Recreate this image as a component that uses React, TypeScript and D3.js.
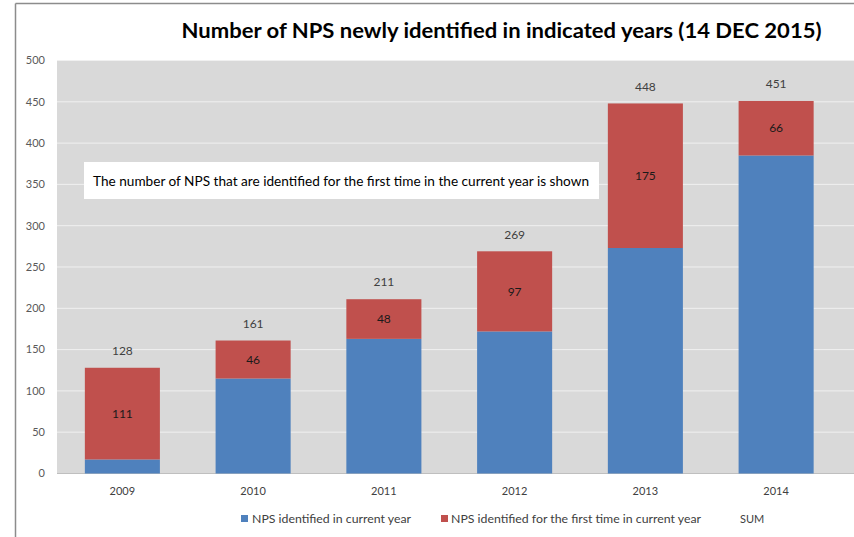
import React from "react";
import * as d3 from "d3";

const years = ["2009", "2010", "2011", "2012", "2013", "2014"];
const currentYear = [17, 115, 163, 172, 273, 385];
const firstTime = [111, 46, 48, 97, 175, 66];
const sums = [128, 161, 211, 269, 448, 451];
const yTicks = [0, 50, 100, 150, 200, 250, 300, 350, 400, 450, 500];
const seriesNames = ["NPS identified in current year", "NPS identified for the first time in current year", "SUM"];
const titleText = "Number of NPS newly identified in indicated years (14 DEC 2015)";
const noteText = "The number of NPS that are identified for the first time in the current year is shown";

const W = 854, H = 537;
const FONT = "Lato, 'Open Sans', sans-serif";

export default function App() {
  const x = d3.scaleBand().domain(years).range([57, 841.5]).paddingInner(0.426).paddingOuter(0.213);
  const y = d3.scaleLinear().domain([0, 500]).range([473.5, 60.5]);
  const blue = "#4f81bd", red = "#c0504d";
  const stack = d3.stack<any>().keys(["a", "b"])(years.map((yr, i) => ({ yr, a: currentYear[i], b: firstTime[i] })));
  return (
    <svg width={W} height={H} style={{ position: "absolute", left: 0, top: 0, display: "block" }}>
      <rect x={0} y={0} width={W} height={H} fill="#fff" />
      <line x1={15.5} y1={3.5} x2={W} y2={3.5} stroke="#8c8c8c" strokeWidth={1.5} />
      <line x1={15.5} y1={3.5} x2={15.5} y2={H} stroke="#8c8c8c" strokeWidth={1.5} />
      <text x={501.5} y={38} textAnchor="middle" fontFamily={FONT} fontWeight="bold" fontSize={21} fill="#000"
        textLength={640} lengthAdjust="spacingAndGlyphs">{titleText}</text>
      <rect x={57} y={60.5} width={W - 57} height={413} fill="#d9d9d9" />
      {yTicks.map(t => (
        <g key={t}>
          {t > 0 && <line x1={57} x2={W} y1={y(t)} y2={y(t)} stroke="#f0f0f0" strokeWidth={1} />}
          <text x={45} y={y(t)} dy="0.35em" textAnchor="end" fontFamily={FONT} fontSize={11} fill="#595959">{t}</text>
        </g>
      ))}
      <line x1={57} x2={W} y1={473.5} y2={473.5} stroke="#bfbfbf" strokeWidth={1} />
      <rect x={84} y={162} width={515} height={37} fill="#fff" />
      <text x={93} y={181} dy="0.35em" fontFamily={FONT} fontSize={13} fill="#000" textLength={496} lengthAdjust="spacingAndGlyphs">{noteText}</text>
      {stack.map((s, si) => s.map((d, i) => (
        <rect key={si + "-" + i} x={x(years[i])!} width={x.bandwidth()} y={y(d[1])} height={y(d[0]) - y(d[1])}
          fill={si === 0 ? blue : red} />
      )))}
      {years.map((yr, i) => (
        <g key={yr}>
          <text x={x(yr)! + x.bandwidth() / 2} y={y(currentYear[i] + firstTime[i] / 2)} dy="0.35em" textAnchor="middle"
            fontFamily={FONT} fontSize={12} fill="#1a1a1a">{firstTime[i]}</text>
          <text x={x(yr)! + x.bandwidth() / 2} y={y(sums[i]) - 17} dy="0.35em" textAnchor="middle"
            fontFamily={FONT} fontSize={12} fill="#404040">{sums[i]}</text>
          <text x={x(yr)! + x.bandwidth() / 2} y={491} dy="0.35em" textAnchor="middle"
            fontFamily={FONT} fontSize={11} fill="#404040">{yr}</text>
        </g>
      ))}
      <rect x={241} y={515} width={7} height={7} fill={blue} />
      <text x={252} y={519} dy="0.35em" fontFamily={FONT} fontSize={11} fill="#404040" textLength={159} lengthAdjust="spacingAndGlyphs">{seriesNames[0]}</text>
      <rect x={441} y={515} width={7} height={7} fill={red} />
      <text x={451} y={519} dy="0.35em" fontFamily={FONT} fontSize={11} fill="#404040" textLength={250} lengthAdjust="spacingAndGlyphs">{seriesNames[1]}</text>
      <text x={740} y={519} dy="0.35em" fontFamily={FONT} fontSize={11} fill="#404040">{seriesNames[2]}</text>
    </svg>
  );
}
